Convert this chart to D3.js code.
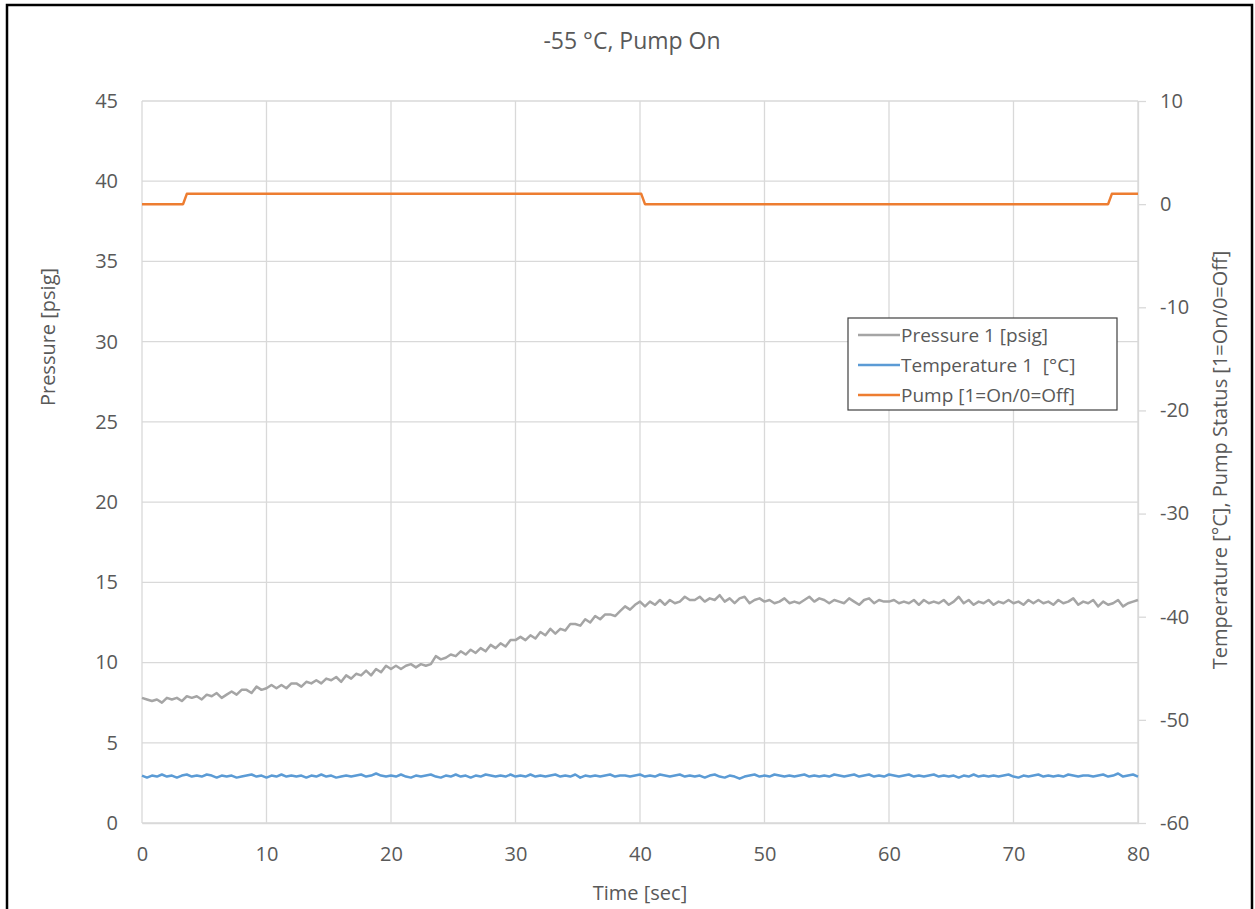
<!DOCTYPE html>
<html>
<head>
<meta charset="utf-8">
<script src="https://cdn.jsdelivr.net/npm/d3@7"></script>
<style>
	body { margin:0; background:#fff; }
	text { font-family:'Open Sans', 'Noto Sans', sans-serif; fill:#595959; }
</style>
</head>
<body>
<svg id="chart" width="1255" height="909"></svg>
<script>
// sample step of the logged series [sec]
const step = 0.4

const pressure = [
	7.8,7.7,7.6,7.7,7.5,7.8,7.7,7.8,7.6,7.9,7.8,
	7.9,7.7,8.0,7.9,8.1,7.8,8.0,8.2,8.0,8.3,
	8.3,8.1,8.5,8.3,8.4,8.6,8.4,8.6,8.4,8.7,
	8.7,8.5,8.8,8.7,8.9,8.7,9.0,8.9,9.1,8.8,
	9.2,9.0,9.3,9.2,9.5,9.2,9.6,9.4,9.8,9.6,
	9.8,9.6,9.8,9.9,9.7,9.9,9.8,9.9,10.4,10.2,
	10.3,10.5,10.4,10.7,10.5,10.8,10.6,10.9,10.7,11.1,
	10.9,11.2,11.0,11.4,11.4,11.6,11.4,11.7,11.5,11.9,
	11.7,12.1,11.8,12.1,12.0,12.4,12.4,12.3,12.7,12.5,
	12.9,12.7,13.0,13.0,12.9,13.2,13.5,13.3,13.6,13.8,
	13.5,13.8,13.6,13.9,13.6,13.9,13.7,13.8,14.1,13.9,
	13.9,14.1,13.8,14.0,13.9,14.2,13.8,14.0,13.7,14.0,
	14.1,13.7,13.9,14.0,13.8,13.9,13.7,13.8,14.0,13.7,
	13.8,13.7,13.9,14.1,13.8,14.0,13.9,13.7,13.9,13.8,
	13.7,14.0,13.8,13.6,13.9,14.0,13.7,13.9,13.8,13.8,
	13.9,13.7,13.8,13.7,13.9,13.6,13.9,13.7,13.8,13.7,
	13.9,13.6,13.8,14.1,13.7,13.9,13.6,13.8,13.7,13.9,
	13.6,13.8,13.7,13.9,13.7,13.8,13.6,13.9,13.7,13.9,
	13.7,13.8,13.6,13.9,13.7,13.8,14.0,13.6,13.8,13.7,
	13.9,13.5,13.8,13.6,13.7,13.9,13.5,13.7,13.8,13.9
]

const temperature = [
	-55.4,-55.6,-55.4,-55.5,-55.3,-55.5,-55.4,-55.6,-55.4,-55.3,-55.5,
	-55.4,-55.5,-55.3,-55.4,-55.6,-55.4,-55.5,-55.4,-55.6,-55.5,
	-55.4,-55.3,-55.5,-55.4,-55.6,-55.4,-55.5,-55.3,-55.5,-55.4,
	-55.5,-55.4,-55.6,-55.4,-55.5,-55.3,-55.5,-55.4,-55.6,-55.5,
	-55.4,-55.5,-55.4,-55.3,-55.5,-55.4,-55.2,-55.4,-55.5,-55.4,
	-55.5,-55.3,-55.5,-55.6,-55.4,-55.5,-55.4,-55.3,-55.5,-55.6,
	-55.4,-55.5,-55.3,-55.5,-55.4,-55.6,-55.4,-55.5,-55.3,-55.4,
	-55.5,-55.4,-55.5,-55.3,-55.5,-55.4,-55.5,-55.3,-55.5,-55.4,
	-55.5,-55.4,-55.3,-55.5,-55.4,-55.5,-55.3,-55.6,-55.4,-55.5,
	-55.4,-55.5,-55.4,-55.3,-55.5,-55.4,-55.4,-55.5,-55.4,-55.3,
	-55.5,-55.4,-55.5,-55.3,-55.4,-55.5,-55.4,-55.3,-55.5,-55.4,
	-55.5,-55.4,-55.6,-55.4,-55.3,-55.5,-55.6,-55.4,-55.5,-55.7,
	-55.5,-55.4,-55.3,-55.5,-55.4,-55.5,-55.3,-55.4,-55.5,-55.4,
	-55.5,-55.4,-55.3,-55.5,-55.4,-55.5,-55.4,-55.5,-55.3,-55.4,
	-55.5,-55.4,-55.3,-55.5,-55.4,-55.3,-55.5,-55.4,-55.5,-55.3,
	-55.4,-55.5,-55.4,-55.3,-55.5,-55.4,-55.5,-55.4,-55.3,-55.5,
	-55.4,-55.5,-55.4,-55.6,-55.4,-55.5,-55.3,-55.5,-55.4,-55.5,
	-55.4,-55.5,-55.4,-55.3,-55.5,-55.6,-55.4,-55.5,-55.4,-55.3,
	-55.5,-55.4,-55.5,-55.4,-55.5,-55.3,-55.4,-55.5,-55.4,-55.4,
	-55.5,-55.4,-55.3,-55.5,-55.4,-55.2,-55.5,-55.4,-55.3,-55.5
]

const pumpTime = [0, 3.3, 3.6, 40.1, 40.4, 77.6, 77.9, 80]
const pumpStatus = [0, 0, 1, 1, 0, 0, 1, 1]

const xTicks = [0,10,20,30,40,50,60,70,80]
const pressureTicks = [0,5,10,15,20,25,30,35,40,45]
const tempTicks = [-60,-50,-40,-30,-20,-10,0,10]

const series = [
	{name:'Pressure 1 [psig]', color:'#a5a5a5'},
	{name:'Temperature 1  [°C]', color:'#5b9bd5'},
	{name:'Pump [1=On/0=Off]', color:'#ed7d31'}
]

let margin = {top:101, right:117, bottom:86, left:142}
let width = 1255 - margin.left - margin.right
let height = 909 - margin.top - margin.bottom

// plain hyphen minus like the spreadsheet
const fmt = d => String(d)

const svg = d3.select('#chart')

// outer frame
svg.append('rect')
	.attr('x',7).attr('y',5)
	.attr('width',1245).attr('height',930)
	.attr('fill','none')
	.attr('stroke','#000')
	.attr('stroke-width',2.5)

const xScale = d3.scaleLinear().domain([0,80]).range([0,width])
const yLeft = d3.scaleLinear().domain([0,45]).range([height,0])
const yRight = d3.scaleLinear().domain([-60,10]).range([height,0])

const chart = svg.append('g')
	.attr('transform',`translate(${margin.left},${margin.top})`)

// gridlines
chart.append('g')
	.selectAll('line')
	.data(pressureTicks)
	.enter()
	.append('line')
	.attr('x1',0).attr('x2',width)
	.attr('y1',d => yLeft(d)).attr('y2',d => yLeft(d))
	.attr('stroke','#d9d9d9').attr('stroke-width',1.3)

chart.append('g')
	.selectAll('line')
	.data(xTicks)
	.enter()
	.append('line')
	.attr('x1',d => xScale(d)).attr('x2',d => xScale(d))
	.attr('y1',0).attr('y2',height)
	.attr('stroke','#d9d9d9').attr('stroke-width',1.3)

// axes
const axisX = chart.append('g')
	.attr('transform',`translate(0,${height})`)
	.call(d3.axisBottom(xScale).tickValues(xTicks).tickFormat(fmt).tickSize(0).tickPadding(24))
axisX.select('.domain').attr('stroke','#d9d9d9').attr('stroke-width',1.3)

const axisL = chart.append('g')
	.call(d3.axisLeft(yLeft).tickValues(pressureTicks).tickFormat(fmt).tickSize(0).tickPadding(24))
axisL.select('.domain').remove()

const axisR = chart.append('g')
	.attr('transform',`translate(${width},0)`)
	.call(d3.axisRight(yRight).tickValues(tempTicks).tickFormat(fmt).tickSize(8).tickPadding(14).tickSizeOuter(0))
axisR.select('.domain').attr('stroke','#d9d9d9').attr('stroke-width',1.3)
axisR.selectAll('.tick line').attr('stroke','#d9d9d9').attr('stroke-width',1.3)

chart.selectAll('.tick text')
	.attr('font-size','20px')
	.attr('font-family',"'Open Sans', sans-serif")
	.attr('fill','#595959')

// lines
const pressureLine = d3.line()
	.x((d,i) => xScale(i*step))
	.y(d => yLeft(d))

const tempLine = d3.line()
	.x((d,i) => xScale(i*step))
	.y(d => yRight(d))

const pumpLine = d3.line()
	.x((d,i) => xScale(pumpTime[i]))
	.y(d => yRight(d))

chart.append('path')
	.datum(temperature)
	.attr('d',tempLine)
	.attr('fill','none')
	.attr('stroke',series[1].color)
	.attr('stroke-width',2.5)
	.attr('stroke-linejoin','round')

chart.append('path')
	.datum(pressure)
	.attr('d',pressureLine)
	.attr('fill','none')
	.attr('stroke',series[0].color)
	.attr('stroke-width',2.5)
	.attr('stroke-linejoin','round')

chart.append('path')
	.datum(pumpStatus)
	.attr('d',pumpLine)
	.attr('fill','none')
	.attr('stroke',series[2].color)
	.attr('stroke-width',2.5)
	.attr('stroke-linejoin','round')

// titles
svg.append('text')
	.attr('x',632).attr('y',49)
	.attr('text-anchor','middle')
	.attr('font-size','23px')
	.text('-55 °C, Pump On')

svg.append('text')
	.attr('x',640).attr('y',900)
	.attr('text-anchor','middle')
	.attr('font-size','20px')
	.text('Time [sec]')

svg.append('text')
	.attr('transform','translate(55,337) rotate(-90)')
	.attr('text-anchor','middle')
	.attr('font-size','20px')
	.text('Pressure [psig]')

svg.append('text')
	.attr('transform','translate(1227,460) rotate(-90)')
	.attr('text-anchor','middle')
	.attr('font-size','20px')
	.text('Temperature [°C], Pump Status [1=On/0=Off]')

// legend
const legend = svg.append('g').attr('transform','translate(848,318)')
legend.append('rect')
	.attr('width',269).attr('height',92)
	.attr('fill','#fff')
	.attr('stroke','#404040')
	.attr('stroke-width',1.2)

const items = legend.selectAll('.item')
	.data(series)
	.enter()
	.append('g')
	.attr('transform',(d,i) => `translate(0,${17 + i*30})`)

items.append('line')
	.attr('x1',10).attr('x2',52)
	.attr('stroke',d => d.color)
	.attr('stroke-width',2.5)

items.append('text')
	.attr('x',53).attr('y',7)
	.attr('font-size','19px')
	.style('white-space','pre')
	.text(d => d.name)
</script>
</body>
</html>
